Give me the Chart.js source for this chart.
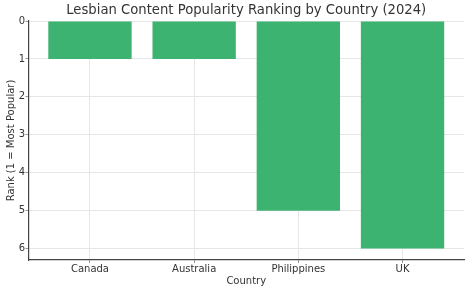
<!DOCTYPE html>
<html><head><meta charset="utf-8">
<script src="https://cdn.jsdelivr.net/npm/chart.js@4/dist/chart.umd.min.js"></script>
<style>html,body{margin:0;padding:0;background:#fff}#c{display:block}</style>
</head><body>
<div style="width:470px;height:292px"><canvas id="c" width="470" height="292"></canvas></div>
<script>
const categories = ["Canada", "Australia", "Philippines", "UK"];
const ranks = [1, 1, 5, 6];
const yTicks = [0, 1, 2, 3, 4, 5, 6];
const chartTitle = 'Lesbian Content Popularity Ranking by Country (2024)';

const points = categories.map((c, i) => ({x: i, y: ranks[i]}));
const font = "'DejaVu Sans', sans-serif";

const titlePlugin = {
  id: 'axesTitle',
  afterDraw(chart) {
    const {ctx, chartArea} = chart;
    ctx.save();
    ctx.fillStyle = '#333';
    ctx.font = "13.2px 'DejaVu Sans', sans-serif";
    ctx.textAlign = 'center';
    ctx.textBaseline = 'middle';
    ctx.fillText(chartTitle, (chartArea.left + chartArea.right) / 2, 11);
    ctx.restore();
  }
};

new Chart(document.getElementById('c'), {
  type: 'bar',
  data: {
    datasets: [{
      data: points,
      backgroundColor: '#3cb371',
      borderWidth: 0,
      barPercentage: 0.8,
      categoryPercentage: 1.0
    }]
  },
  plugins: [titlePlugin],
  options: {
    responsive: false,
    animation: false,
    devicePixelRatio: 1,
    layout: {padding: {left: 0, right: 6, top: 21, bottom: 0}},
    plugins: {
      legend: {display: false},
      tooltip: {enabled: false},
      title: {display: false}
    },
    scales: {
      x: {
        type: 'linear',
        offset: false,
        min: -0.59,
        max: 3.59,
        afterBuildTicks: (s) => { s.ticks = categories.map((c, i) => ({value: i})); },
        ticks: {
          callback: (v) => categories[v],
          color: '#333',
          font: {family: font, size: 10},
          padding: 0,
          autoSkip: false,
          maxRotation: 0
        },
        grid: {offset: false, color: '#e6e6e6', tickLength: 3, tickColor: '#999'},
        border: {color: '#444', width: 1.2},
        title: {display: true, text: 'Country', color: '#333', font: {family: font, size: 10}, padding: {top: 0, bottom: 5}},
        afterFit: (s) => { s.height = 32; }
      },
      y: {
        reverse: true,
        min: 0,
        max: 6.3,
        afterBuildTicks: (s) => { s.ticks = yTicks.map(v => ({value: v})); },
        ticks: {
          color: '#333',
          font: {family: font, size: 10},
          padding: 0.5
        },
        grid: {color: '#e6e6e6', tickLength: 3, tickColor: '#999'},
        border: {color: '#444', width: 1.2},
        title: {display: true, text: 'Rank (1 = Most Popular)', color: '#333', font: {family: font, size: 10}, padding: {top: 5, bottom: 2}},
        afterFit: (s) => { s.width = 28.5; }
      }
    }
  }
});
</script>
</body></html>
